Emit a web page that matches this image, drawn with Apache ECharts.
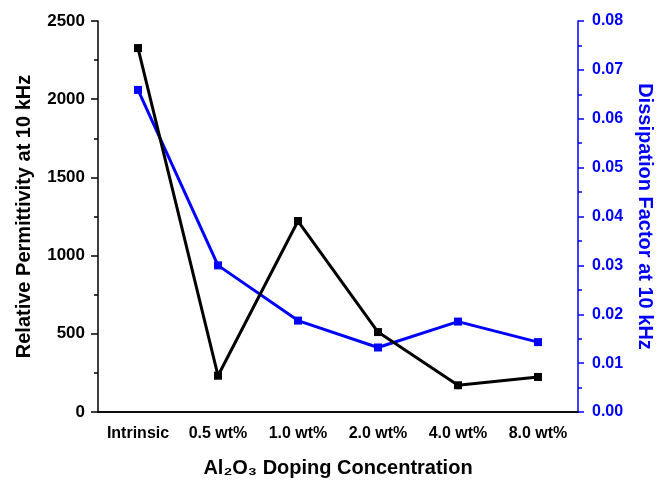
<!DOCTYPE html>
<html>
<head>
<meta charset="utf-8">
<script src="https://cdn.jsdelivr.net/npm/echarts@6/dist/echarts.min.js"></script>
<style>html,body{margin:0;padding:0;background:#fff}#c{width:658px;height:481px}</style>
</head>
<body>
<div id="c"></div>
<script>
var categories = ['Intrinsic', '0.5 wt%', '1.0 wt%', '2.0 wt%', '4.0 wt%', '8.0 wt%'];
var permittivity = [2327, 232, 1221, 511, 171, 224];
var dissipation = [0.0659, 0.0300, 0.0187, 0.0132, 0.0185, 0.0143];

var FONT = 'Liberation Sans';
var chart = echarts.init(document.getElementById('c'));
chart.setOption({
  animation: false,
  backgroundColor: '#fff',
  textStyle: {fontFamily: FONT},
  grid: {left: 98, right: 80, top: 21, bottom: 69, containLabel: false, outerBoundsMode: 'none'},
  xAxis: [{
    type: 'category',
    data: categories,
    position: 'bottom',
    axisLine: {lineStyle: {color: '#000', width: 1.5}},
    axisTick: {alignWithLabel: true, length: 6, lineStyle: {color: '#000', width: 1.5}},
    axisLabel: {color: '#000', fontSize: 16, fontWeight: 'bold', margin: 14, fontFamily: FONT, interval: 0, hideOverlap: false},
    name: 'Al\u2082O\u2083 Doping Concentration',
    nameLocation: 'middle',
    nameGap: 46,
    nameTextStyle: {color: '#000', fontSize: 20, fontWeight: 'bold', fontFamily: FONT}
  }, {
    type: 'category',
    data: categories,
    position: 'top',
    axisLine: {lineStyle: {color: '#000', width: 1.5}},
    axisTick: {alignWithLabel: true, inside: true, length: 6, lineStyle: {color: '#000', width: 1.5}},
    axisLabel: {show: false}
  }],
  yAxis: [{
    type: 'value',
    min: 0, max: 2500, interval: 500,
    position: 'left',
    splitLine: {show: false},
    axisLine: {show: true, lineStyle: {color: '#000', width: 1.5}},
    axisTick: {show: true, length: 7, lineStyle: {color: '#000', width: 1.5}},
    minorTick: {show: true, splitNumber: 2, length: 4, lineStyle: {color: '#000', width: 1.5}},
    axisLabel: {color: '#000', fontSize: 17, fontWeight: 'bold', margin: 13, fontFamily: FONT,
      formatter: function (v) { return String(v); }},
    name: 'Relative Permittivity at 10 kHz',
    nameLocation: 'middle',
    nameGap: 64,
    nameTextStyle: {color: '#000', fontSize: 20, fontWeight: 'bold', fontFamily: FONT}
  }, {
    type: 'value',
    min: 0, max: 0.08, interval: 0.01,
    position: 'right',
    splitLine: {show: false},
    axisLine: {show: true, lineStyle: {color: '#0000ff', width: 1.5}},
    axisTick: {show: true, length: 6, lineStyle: {color: '#0000ff', width: 1.5}},
    minorTick: {show: true, splitNumber: 2, length: 4, lineStyle: {color: '#0000ff', width: 1.5}},
    axisLabel: {color: '#0000ff', fontSize: 16, fontWeight: 'bold', margin: 14, fontFamily: FONT,
      formatter: function (v) { return v.toFixed(2); }},
    name: 'Dissipation Factor at 10 kHz',
    nameLocation: 'middle',
    nameGap: 57,
    nameRotate: -90,
    nameTextStyle: {color: '#0000ff', fontSize: 20, fontWeight: 'bold', fontFamily: FONT}
  }],
  series: [{
    type: 'line',
    data: permittivity,
    xAxisIndex: 0, yAxisIndex: 0,
    symbol: 'rect', symbolSize: 8,
    lineStyle: {color: '#000', width: 3},
    itemStyle: {color: '#000'},
    z: 3
  }, {
    type: 'line',
    data: dissipation,
    xAxisIndex: 0, yAxisIndex: 1,
    symbol: 'rect', symbolSize: 8,
    lineStyle: {color: '#0000ff', width: 3},
    itemStyle: {color: '#0000ff'},
    z: 2
  }]
});
</script>
</body>
</html>
